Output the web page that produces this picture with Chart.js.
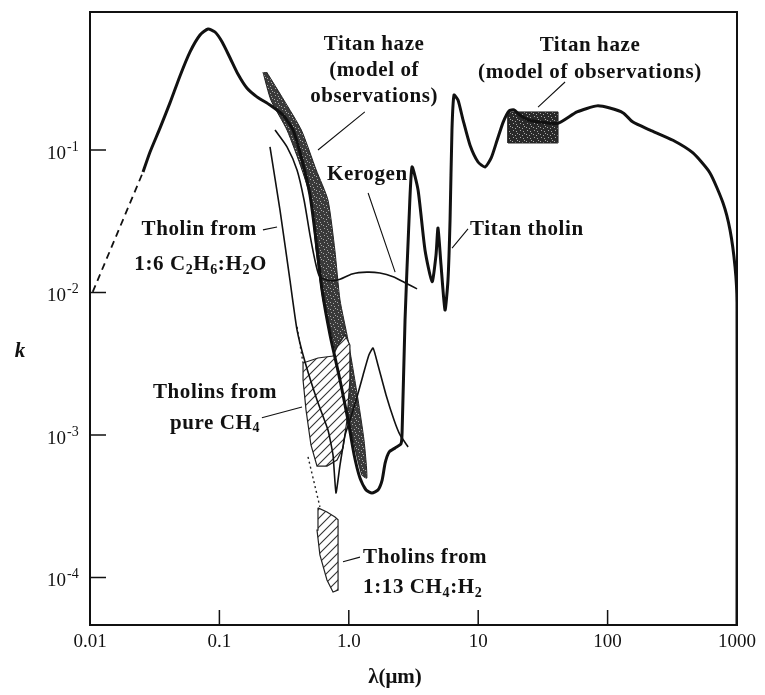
<!DOCTYPE html>
<html>
<head>
<meta charset="utf-8">
<script src="https://cdn.jsdelivr.net/npm/chart.js@4.4.1/dist/chart.umd.min.js"></script>
<style>
  html, body { margin: 0; padding: 0; background: #fff; }
  canvas { display: block; }
</style>
</head>
<body>
<canvas id="kChart" width="765" height="695"></canvas>
<script>
// wavelength (micron) vs imaginary index k
var titanTholin = [
  [0.0257, 0.0701], [0.0291, 0.0968], [0.0348, 0.143], [0.0415, 0.214], [0.0496, 0.331],
  [0.0593, 0.488], [0.0708, 0.641], [0.0817, 0.707], [0.0925, 0.673], [0.105, 0.573],
  [0.121, 0.442], [0.139, 0.341], [0.163, 0.272], [0.195, 0.236], [0.246, 0.207],
  [0.310, 0.176], [0.371, 0.138], [0.435, 0.085], [0.501, 0.0483], [0.558, 0.0233],
  [0.621, 0.0104], [0.716, 0.00504], [0.855, 0.00243], [0.986, 0.00127], [1.10, 7.24e-4],
  [1.22, 4.99e-4], [1.36, 4.11e-4], [1.51, 3.92e-4], [1.68, 4.11e-4], [1.81, 4.83e-4],
  [1.91, 6.37e-4], [2.05, 7.60e-4], [2.28, 8.11e-4], [2.53, 8.65e-4], [2.58, 1.03e-3],
  [2.72, 6.41e-3], [2.92, 0.0323], [3.08, 0.076], [3.43, 0.0524], [3.88, 0.0199],
  [4.40, 0.0119], [4.72, 0.0183], [4.89, 0.0284], [5.16, 0.0156], [5.54, 0.00753],
  [5.84, 0.0122], [6.06, 0.0323], [6.27, 0.138], [6.50, 0.243], [6.98, 0.224],
  [7.63, 0.163], [8.65, 0.108], [9.97, 0.0824], [11.3, 0.076], [12.6, 0.0879],
  [14.0, 0.117], [15.6, 0.157], [17.3, 0.188], [18.9, 0.191], [21.0, 0.176],
  [24.3, 0.163], [30.0, 0.157], [41.4, 0.154], [58.0, 0.185], [82.8, 0.204],
  [104, 0.197], [132, 0.182], [157, 0.157], [213, 0.138], [320, 0.117],
  [457, 0.0953], [618, 0.069], [780, 0.0425], [883, 0.0275], [966, 0.0151],
  [1000, 0.0085], [1000, 4.6e-5]
];
var titanTholinExtrap = [[0.0105, 0.0101], [0.0257, 0.0701]];
var kerogen = [
  [0.269, 0.138], [0.333, 0.105], [0.398, 0.0724], [0.451, 0.0446], [0.501, 0.0254],
  [0.558, 0.0156], [0.598, 0.0129], [0.716, 0.0121], [0.855, 0.0124], [1.06, 0.0135],
  [1.38, 0.0139], [1.74, 0.0137], [2.20, 0.0129], [2.72, 0.0117], [3.37, 0.0106]
];
var c2h6Tholin = [
  [0.246, 0.105], [0.294, 0.0379], [0.351, 0.0122], [0.398, 0.00546], [0.459, 0.00325],
  [0.568, 0.00176], [0.691, 0.00108], [0.755, 7.24e-4], [0.796, 3.92e-4], [0.855, 6.15e-4],
  [0.936, 0.001], [1.02, 0.00127], [1.14, 0.00176], [1.29, 0.00264], [1.43, 0.00364],
  [1.54, 0.00408], [1.68, 0.0031], [1.94, 0.00191], [2.24, 0.00127], [2.49, 0.001],
  [2.87, 8.24e-4]
];
var ch4Tholin = [
  [0.443, 0.0032], [0.578, 0.00347], [0.755, 0.00358], [0.826, 0.00428], [0.936, 0.00504],
  [1.02, 0.00428], [1.02, 0.00243], [0.968, 0.00127], [0.902, 8.11e-4], [0.811, 6.68e-4],
  [0.678, 6.05e-4], [0.568, 6.05e-4], [0.510, 8.51e-4], [0.467, 0.0015], [0.443, 0.00243],
  [0.443, 0.0032]
];
var ch4TholinEdge = [[0.398, 0.00573], [0.443, 0.0032]];
var ch4h2Edge = [[0.484, 7.02e-4], [0.598, 3.13e-4]];
var ch4h2Tholin = [
  [0.578, 3.08e-4], [0.678, 2.88e-4], [0.782, 2.66e-4], [0.826, 2.54e-4], [0.826, 8.17e-5],
  [0.755, 7.9e-5], [0.678, 9.6e-5], [0.598, 1.44e-4], [0.568, 2.15e-4], [0.578, 3.08e-4]
];
var hazeVisible = [
  [0.217, 0.352], [0.250, 0.224], [0.333, 0.138], [0.435, 0.0724], [0.510, 0.0446],
  [0.558, 0.0199], [0.632, 0.00886], [0.755, 0.00465], [0.936, 0.00176], [1.08, 9.23e-4],
  [1.26, 5.24e-4], [1.38, 4.99e-4], [1.31, 9.23e-4], [1.18, 0.00176], [0.986, 0.00465],
  [0.855, 0.00886], [0.78, 0.0199], [0.69, 0.0446], [0.56, 0.0724], [0.43, 0.138],
  [0.315, 0.224], [0.232, 0.352]
];
var hazeFarIr = [[17.0, 0.112], [41.4, 0.112], [41.4, 0.185], [17.0, 0.185], [17.0, 0.112]];

var xTickValues = [0.01, 0.1, 1, 10, 100, 1000];
var xTickLabels = ["0.01", "0.1", "1.0", "10", "100", "1000"];
var yTickValues = [1e-1, 1e-2, 1e-3, 1e-4];
var yTickExps = ["-1", "-2", "-3", "-4"];

// annotations: anchor in data units; "_x" parts are subscripts
var notes = [
  { x: 1.57, y: 0.545, align: "center", parts: ["Titan haze"] },
  { x: 1.57, y: 0.358, align: "center", parts: ["(model of"] },
  { x: 1.57, y: 0.236, align: "center", parts: ["observations)"] },
  { x: 73.1, y: 0.537, align: "center", parts: ["Titan haze"] },
  { x: 73.1, y: 0.352, align: "center", parts: ["(model of observations)"] },
  { x: 0.678, y: 0.0668, align: "left", parts: ["Kerogen"] },
  { x: 8.65, y: 0.0275, align: "left", parts: ["Titan tholin"] },
  { x: 0.195, y: 0.0275, align: "right", parts: ["Tholin from"] },
  { x: 0.233, y: 0.0156, align: "right", parts: ["1:6 C", "_2", "H", "_6", ":H", "_2", "O"] },
  { x: 0.0925, y: 1.97e-3, align: "center", parts: ["Tholins from"] },
  { x: 0.0925, y: 1.21e-3, align: "center", parts: ["pure CH", "_4"] },
  { x: 1.29, y: 1.39e-4, align: "left", parts: ["Tholins from"] },
  { x: 1.29, y: 8.43e-5, align: "left", parts: ["1:13 CH", "_4", ":H", "_2"] }
];
var leaders = [
  [[1.33, 0.185], [0.578, 0.1]],
  [[46.9, 0.300], [29.0, 0.2]],
  [[1.41, 0.0499], [2.28, 0.0139]],
  [[8.34, 0.028], [6.28, 0.0205]],
  [[0.217, 0.0275], [0.279, 0.0288]],
  [[0.213, 0.00132], [0.435, 0.00157]],
  [[0.902, 1.29e-4], [1.22, 1.39e-4]]
];

function toXY(arr) {
  return arr.map(function (p) { return { x: p[0], y: p[1] }; });
}

var canvas = document.getElementById("kChart");
var ctx = canvas.getContext("2d");

function hatch() {
  var c = document.createElement("canvas");
  c.width = 9; c.height = 9;
  var g = c.getContext("2d");
  g.fillStyle = "#fff";
  g.fillRect(0, 0, 9, 9);
  g.strokeStyle = "#333";
  g.lineWidth = 1.1;
  g.beginPath();
  g.moveTo(-1, 10); g.lineTo(10, -1);
  g.moveTo(-1, 1); g.lineTo(1, -1);
  g.moveTo(8, 10); g.lineTo(10, 8);
  g.stroke();
  return ctx.createPattern(c, "repeat");
}

function speckle(base) {
  var c = document.createElement("canvas");
  c.width = 7; c.height = 7;
  var g = c.getContext("2d");
  g.fillStyle = base;
  g.fillRect(0, 0, 7, 7);
  g.fillStyle = "#a8a8a8";
  [[1, 1], [4, 2], [2, 4], [5, 5], [6, 0]].forEach(function (p) { g.fillRect(p[0], p[1], 1, 1); });
  return ctx.createPattern(c, "repeat");
}

var FONT = '"Liberation Serif", "DejaVu Serif", serif';

function drawParts(c, parts, x, y, align) {
  var big = "bold 21px " + FONT, small = "bold 14px " + FONT;
  c.letterSpacing = "0.6px";
  var w = 0;
  parts.forEach(function (p) {
    c.font = p[0] === "_" ? small : big;
    w += c.measureText(p[0] === "_" ? p.slice(1) : p).width;
  });
  var sx = align === "center" ? x - w / 2 : align === "right" ? x - w : x;
  c.textAlign = "left";
  c.textBaseline = "middle";
  parts.forEach(function (p) {
    var sub = p[0] === "_";
    var t = sub ? p.slice(1) : p;
    c.font = sub ? small : big;
    c.fillText(t, sx, sub ? y + 5 : y);
    sx += c.measureText(t).width;
  });
  c.letterSpacing = "0px";
}

var decor = {
  id: "decor",
  afterDatasetsDraw: function (chart) {
    var c = chart.ctx, a = chart.chartArea, xs = chart.scales.x, ys = chart.scales.y;
    c.save();
    c.strokeStyle = "#111";
    c.fillStyle = "#111";
    c.lineWidth = 2;
    c.strokeRect(a.left, a.top, a.right - a.left, a.bottom - a.top);

    c.lineWidth = 1.5;
    c.beginPath();
    yTickValues.forEach(function (v) {
      var py = ys.getPixelForValue(v);
      c.moveTo(a.left, py); c.lineTo(a.left + 16, py);
    });
    xTickValues.forEach(function (v, i) {
      if (i === 0 || i === xTickValues.length - 1) return;
      var px = xs.getPixelForValue(v);
      c.moveTo(px, a.bottom); c.lineTo(px, a.bottom - 15);
    });
    c.stroke();

    // tick labels
    c.textBaseline = "alphabetic";
    yTickValues.forEach(function (v, i) {
      var py = ys.getPixelForValue(v);
      c.font = "19px " + FONT;
      c.textAlign = "right";
      c.fillText("10", a.left - 24, py + 9);
      c.font = "14px " + FONT;
      c.textAlign = "left";
      c.fillText(yTickExps[i], a.left - 23, py + 1);
    });
    c.font = "19px " + FONT;
    c.textAlign = "center";
    c.textBaseline = "middle";
    xTickValues.forEach(function (v, i) {
      c.fillText(xTickLabels[i], xs.getPixelForValue(v), a.bottom + 17);
    });

    // axis titles
    c.font = "bold 21px " + FONT;
    c.fillText("\u03bb(\u03bcm)", 395, 678);
    c.font = "italic bold 21px " + FONT;
    c.fillText("k", 20, 352);

    // leader lines
    c.lineWidth = 1.1;
    c.beginPath();
    leaders.forEach(function (l) {
      c.moveTo(xs.getPixelForValue(l[0][0]), ys.getPixelForValue(l[0][1]));
      c.lineTo(xs.getPixelForValue(l[1][0]), ys.getPixelForValue(l[1][1]));
    });
    c.stroke();

    notes.forEach(function (n) {
      drawParts(c, n.parts, xs.getPixelForValue(n.x), ys.getPixelForValue(n.y), n.align);
    });
    c.restore();
  }
};

new Chart(ctx, {
  type: "scatter",
  data: {
    datasets: [
      { data: toXY(titanTholin), showLine: true, borderColor: "#111", borderWidth: 3, tension: 0.2, pointRadius: 0 },
      { data: toXY(titanTholinExtrap), showLine: true, borderColor: "#111", borderWidth: 1.8, borderDash: [7, 5], pointRadius: 0 },
      { data: toXY(kerogen), showLine: true, borderColor: "#111", borderWidth: 1.6, tension: 0.25, pointRadius: 0 },
      { data: toXY(c2h6Tholin), showLine: true, borderColor: "#111", borderWidth: 1.6, tension: 0.15, pointRadius: 0 },
      { data: toXY(ch4TholinEdge), showLine: true, borderColor: "#222", borderWidth: 1.4, borderDash: [2, 3], pointRadius: 0 },
      { data: toXY(ch4h2Edge), showLine: true, borderColor: "#222", borderWidth: 1.4, borderDash: [2, 3], pointRadius: 0 },
      { data: toXY(ch4Tholin), showLine: true, fill: "shape", backgroundColor: hatch(), borderColor: "#222", borderWidth: 1.2, pointRadius: 0 },
      { data: toXY(ch4h2Tholin), showLine: true, fill: "shape", backgroundColor: hatch(), borderColor: "#222", borderWidth: 1.2, pointRadius: 0 },
      { data: toXY(hazeVisible), showLine: true, fill: "shape", backgroundColor: speckle("#3a3a3a"), borderColor: "#222", borderWidth: 1, tension: 0.2, pointRadius: 0 },
      { data: toXY(hazeFarIr), showLine: true, fill: "shape", backgroundColor: speckle("#2a2a2a"), borderColor: "#222", borderWidth: 1, pointRadius: 0 }
    ]
  },
  options: {
    responsive: false,
    animation: false,
    events: [],
    layout: { padding: { left: 0, right: 28, top: 12, bottom: 0 } },
    plugins: { legend: { display: false }, tooltip: { enabled: false } },
    scales: {
      x: {
        type: "logarithmic", min: 0.01, max: 1000,
        grid: { display: false }, border: { display: false }, ticks: { display: false },
        afterFit: function (s) { s.height = 70; }
      },
      y: {
        type: "logarithmic", min: 4.64e-5, max: 0.93,
        grid: { display: false }, border: { display: false }, ticks: { display: false },
        afterFit: function (s) { s.width = 90; }
      }
    }
  },
  plugins: [decor]
});
</script>
</body>
</html>
